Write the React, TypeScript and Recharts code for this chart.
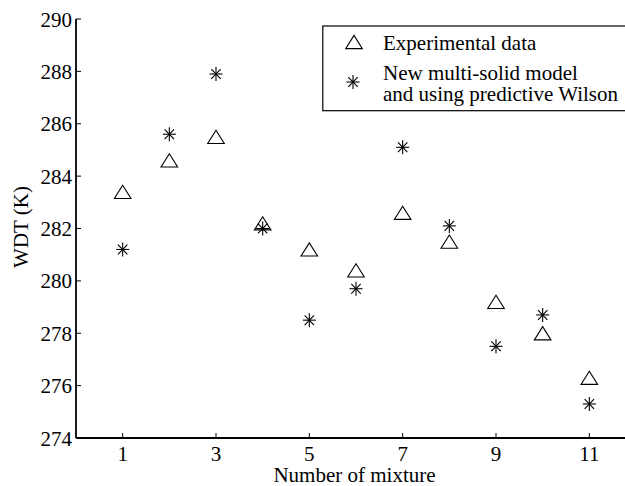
import { ScatterChart, Scatter, XAxis, YAxis, Legend } from "recharts";

const mixtures = [1, 2, 3, 4, 5, 6, 7, 8, 9, 10, 11];
const experimental = [283.4, 284.6, 285.5, 282.2, 281.2, 280.4, 282.6, 281.5, 279.2, 278.0, 276.3];
const multiSolid = [281.2, 285.6, 287.9, 282.0, 278.5, 279.7, 285.1, 282.1, 277.5, 278.7, 275.3];
const xTicks = [1, 3, 5, 7, 9, 11];
const yTicks = [274, 276, 278, 280, 282, 284, 286, 288, 290];

const expData = mixtures.map((x, i) => ({ x, y: experimental[i] }));
const modelData = mixtures.map((x, i) => ({ x, y: multiSolid[i] }));

const FONT = "Liberation Serif";
const FS = 21;
const TICK = 5;
const txt = { fontFamily: FONT, fontSize: FS, fill: "#000" };

const Triangle = ({ cx, cy }: any) => (
  <path
    d={`M${cx - 8.3},${cy + 6.6} L${cx + 8.3},${cy + 6.6} L${cx},${cy - 6.6} Z`}
    fill="none"
    stroke="#000"
    strokeWidth={1.1}
  />
);

const Star = ({ cx, cy }: any) => (
  <g stroke="#000" strokeWidth={1.1}>
    <line x1={cx - 6.5} y1={cy} x2={cx + 6.5} y2={cy} />
    <line x1={cx} y1={cy - 7} x2={cx} y2={cy + 7} />
    <line x1={cx - 4.7} y1={cy - 4.9} x2={cx + 4.7} y2={cy + 4.9} />
    <line x1={cx - 4.7} y1={cy + 4.9} x2={cx + 4.7} y2={cy - 4.9} />
  </g>
);

const BottomTick = ({ x, y, payload }: any) => (
  <g>
    <line x1={x} y1={y} x2={x} y2={y - TICK} stroke="#000" strokeWidth={1} />
    <text x={x} y={y + 22.5} textAnchor="middle" style={txt}>
      {payload.value}
    </text>
  </g>
);

const TopTick = ({ x, y }: any) => (
  <line x1={x} y1={y} x2={x} y2={y + TICK} stroke="#000" strokeWidth={1} />
);

const LeftTick = ({ x, y, payload }: any) => (
  <g>
    <line x1={x} y1={y} x2={x + TICK} y2={y} stroke="#000" strokeWidth={1} />
    <text x={x - 4} y={y + 7.5} textAnchor="end" style={txt}>
      {payload.value}
    </text>
  </g>
);

const LegendBox = () => (
  <svg width={320} height={100} style={{ display: "block" }}>
    <rect x={0.8} y={1} width={340} height={84.7} fill="#fff" stroke="#000" strokeWidth={1.2} />
    <Triangle cx={32} cy={17} />
    <Star cx={31} cy={57} />
    <g style={txt}>
      <text x={61} y={24.5}>Experimental data</text>
      <text x={61} y={54.5}>New multi-solid model</text>
      <text x={61} y={75.5}>and using predictive Wilson</text>
    </g>
  </svg>
);

export default function App() {
  return (
    <div style={{ position: "fixed", left: 0, top: 0, width: 625, height: 486, overflow: "hidden", background: "#fff" }}>
      <ScatterChart width={650} height={486} margin={{ top: 19, right: 14, bottom: 0, left: 0 }}>
        <XAxis
          type="number"
          dataKey="x"
          domain={[0, 12]}
          ticks={xTicks}
          interval={0}
          height={48}
          tickSize={0}
          tickMargin={0}
          tickLine={false}
          tick={BottomTick}
          axisLine={{ stroke: "#000", strokeWidth: 1.8 }}
          label={({ viewBox }: any) => (
            <text x={viewBox.x + viewBox.width / 2 - 1.5} y={481.5} textAnchor="middle" style={txt}>
              Number of mixture
            </text>
          )}
        />
        <XAxis
          xAxisId="top"
          orientation="top"
          type="number"
          dataKey="x"
          domain={[0, 12]}
          ticks={xTicks}
          interval={0}
          height={0}
          tickSize={0}
          tickMargin={0}
          tickLine={false}
          tick={TopTick}
          axisLine={{ stroke: "#000", strokeWidth: 1.8 }}
        />
        <YAxis
          type="number"
          dataKey="y"
          domain={[274, 290]}
          ticks={yTicks}
          interval={0}
          width={76}
          tickSize={0}
          tickMargin={0}
          tickLine={false}
          tick={LeftTick}
          axisLine={{ stroke: "#000", strokeWidth: 1.8 }}
          label={() => (
            <text x={28} y={227} transform="rotate(-90 28 227)" textAnchor="middle" style={txt}>
              WDT (K)
            </text>
          )}
        />
        <Legend
          layout="vertical"
          align="center"
          verticalAlign="middle"
          content={() => <LegendBox />}
          wrapperStyle={{ left: 322, top: 25, width: 320, height: 100 }}
        />
        <Scatter name="Experimental data" data={expData} shape={Triangle} isAnimationActive={false} />
        <Scatter name="New multi-solid model" data={modelData} shape={Star} isAnimationActive={false} />
      </ScatterChart>
    </div>
  );
}
